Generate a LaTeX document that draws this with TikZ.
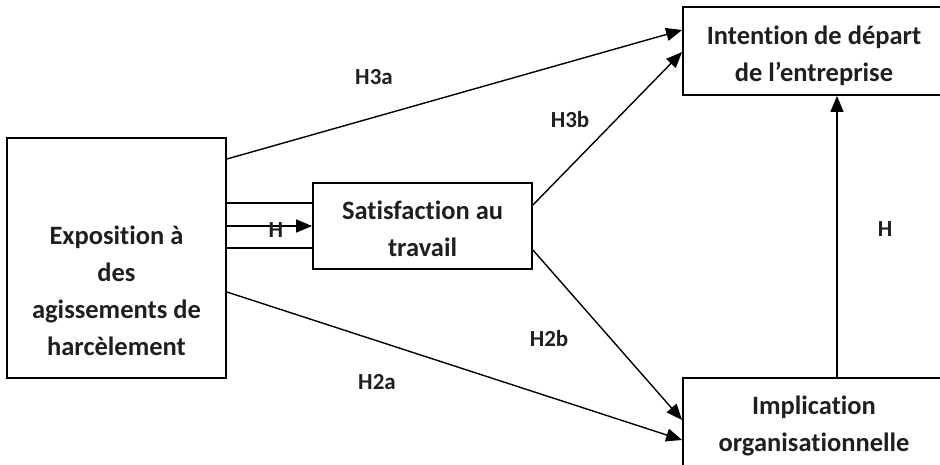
\documentclass[tikz,border=0pt]{standalone}
\usepackage{fontspec}
\setmainfont{Carlito}[Ligatures=NoCommon]
\usetikzlibrary{arrows.meta}
\usetikzlibrary{calc}

\tikzset{
 boite/.style={draw, line width=1.8pt, inner sep=0pt},
 texte/.style={align=center, text=black!88, font=\bfseries\fontsize{26.5}{37}\selectfont, inner sep=0pt},
 lien/.style={line width=1.4pt},
 fleche/.style={line width=1.4pt, -{Triangle[length=16pt,width=13pt]}},
 hyp/.style={text=black!88, font=\bfseries\fontsize{23}{26}\selectfont, inner sep=1pt}
}

\begin{document}
\begin{tikzpicture}[x=1pt, y=-1pt]
\useasboundingbox (0,0) rectangle (940,464);
\clip (0,0) rectangle (940,464);
% boxes
\node[boite, minimum width=219pt, minimum height=240pt] (expo) at (116.5,258) {};
\node[texte] (expotxt) at (116.5,291) {Exposition à\\des\\agissements de\\harcèlement};
\node[boite, minimum width=219pt, minimum height=86pt] (satis) at (422.5,226) {};
\node[texte] (satistxt) at (422.5,229) {Satisfaction au\\travail};
\node[boite, minimum width=262pt, minimum height=88pt] (depart) at (814,51) {};
\node[texte] (departtxt) at (814,56) {Intention de départ\\de l’entreprise};
\node[boite, minimum width=262pt, minimum height=88pt] (implic) at (814,422) {};
\node[texte] (implictxt) at (814,426) {Implication\\organisationnelle};
% links
\draw[fleche] (expo.east |- 0,159) -- (depart.west |- 0,30);
\draw[fleche] (satis.east |- 0,205) -- (depart.west |- 0,52);
\foreach \y in {203,248} {
 \draw[lien] (expo.east |- 0,\y) -- (satis.west |- 0,\y);
}
\draw[fleche] (expo.east |- satis.west) -- (satis.west);
\draw[fleche] (satis.east |- 0,250) -- (implic.west |- 0,420);
\draw[fleche] (expo.east |- 0,292) -- (implic.west |- 0,440);
\draw[fleche] (implic.north -| 837,0) -- (depart.south -| 837,0);
% labels
\node[hyp] (h3a) at (374,77) {H3a};
\node[hyp] (h3b) at (570,120) {H3b};
\node[hyp] (h1) at (276,230) {H};
\node[hyp] (h2b) at (549,339) {H2b};
\node[hyp] (h2a) at (377,382) {H2a};
\node[hyp] (h4) at (885,229) {H};
\end{tikzpicture}
\end{document}
